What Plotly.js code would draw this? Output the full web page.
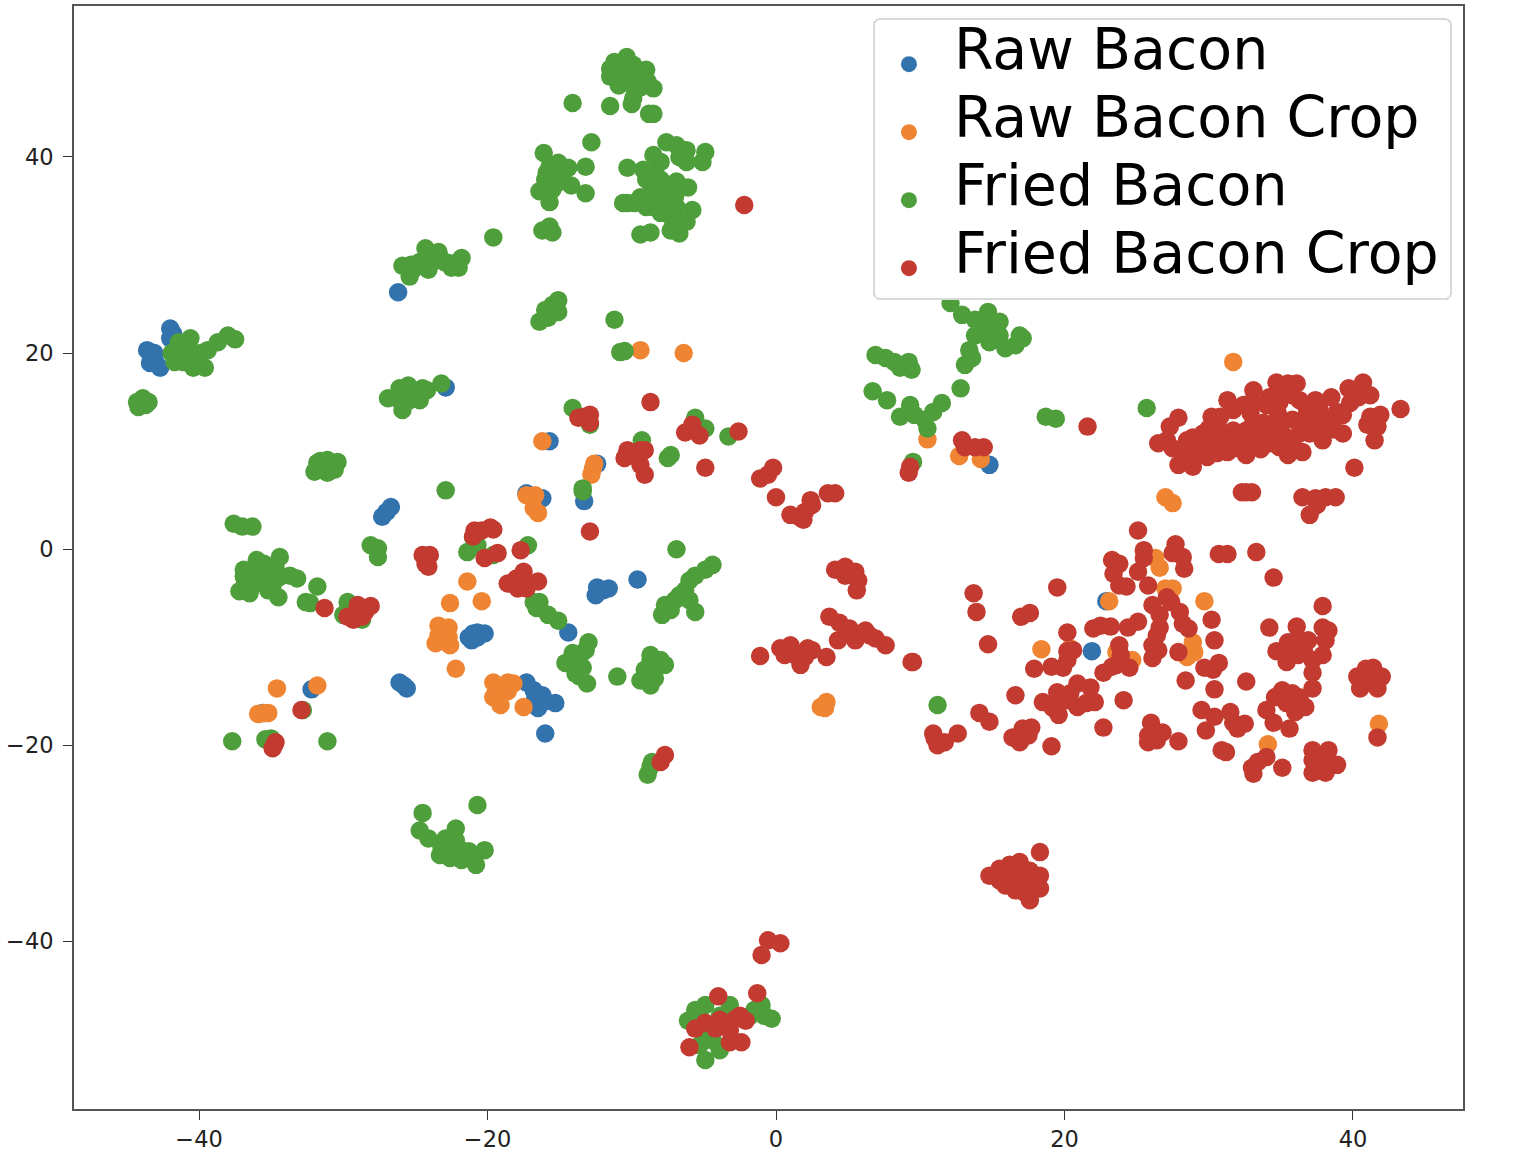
<!DOCTYPE html>
<html>
<head>
<meta charset="utf-8">
<script src="https://cdn.plot.ly/plotly-3.0.1.min.js"></script>
<style>body { margin: 0; background: #fff; }</style>
</head>
<body>
<div id="chart"></div>
<script>
const seriesNames = ['Raw Bacon', 'Raw Bacon Crop', 'Fried Bacon', 'Fried Bacon Crop'];
const seriesColors = ['#3373ad', '#ef8532', '#4f9e3c', '#c23a30'];
const tickValues = [-40, -20, 0, 20, 40];

const rawBacon = [
  [-42,22.5],[-41.8,22],[-42,21.5],[-43.6,20.3],[-43.3,19.6],[-43.4,19],[-42.7,18.5],[-43,19],[-43.1,20],
  [-22.9,16.5],[-26.2,26.2],[-27.3,3.3],[-26.7,4.3],[-27,3.8],[-32.2,-14.3],[-35.6,-16.7],
  [-21.1,-9.3],[-20.7,-8.5],[-20.2,-8.6],[-21,-8.6],[-21.3,-9],[-20.7,-9],[-26.1,-13.6],[-25.6,-14.2],[-25.8,-13.9],
  [-17.3,-13.6],[-16.8,-14.4],[-16.2,-14.9],[-16.5,-16.2],[-15.3,-15.7],[-16.7,-15.3],[-16,-15.5],[-16,-18.8],
  [-14.4,-8.5],[-12.4,-3.9],[-11.6,-4],[-12.5,-4.7],[-12,-4.2],[-9.6,-3.1],
  [-15.7,11],[-12.4,8.7],[-17.3,5.7],[-16.2,5.2],[-13.3,4.9],
  [14.8,8.6],[22.9,-5.3],[21.9,-10.4]
];

const rawBaconCrop = [
  [-34.6,-14.2],[-31.8,-13.9],[-35.9,-16.8],[-35.2,-16.7],[-35.5,-16.7],
  [-21.4,-3.3],[-22.6,-5.5],[-20.4,-5.3],[-23.4,-7.8],[-22.7,-8],[-23.4,-8.8],[-22.7,-9],[-23.6,-9.6],[-22.6,-9.8],[-23.1,-9.4],[-23.1,-8.4],
  [-22.2,-12.2],[-19.6,-13.6],[-18.6,-13.6],[-18.2,-13.7],[-19.6,-15.1],[-19.1,-15.9],[-19,-14.4],[-19.4,-14.4],[-18.6,-14.5],[-17.5,-16.1],
  [-16.2,11],[-12.6,8.7],[-12.8,7.6],[-12.7,8.2],[-17.3,5.5],[-16.7,5.5],[-16.5,3.7],[-16.8,4.2],
  [-9.4,20.3],[-6.4,20],[3.1,-16.1],[3.5,-15.6],[3.4,-16.2],
  [31.7,19.1],[27,5.3],[27.5,4.7],[10.5,11.2],[12.7,9.5],[14.2,9.2],
  [26.3,-0.9],[26.6,-1.9],[27,-4],[27.5,-4],[29.7,-5.3],[23.1,-5.3],
  [28.9,-9.5],[29,-10.5],[28.5,-11],[18.4,-10.2],[20.4,-10.1],[23.6,-10.5],[24.7,-11.3],
  [34.1,-19.9],[41.8,-17.8]
];

const friedBacon = [
  [-10.35,50.2],[-11.2,49.7],[-11.5,49],[-11.5,48.2],[-10.7,48.7],[-9.9,49.4],[-10.9,47.3],[-10.1,47.5],[-9.2,48.3],[-8.9,47.7],[-8.5,47],[-9.4,47.1],[-10.3,48.6],[-9.6,48.5],[-11,48.2],[-10.8,49.3],[-9,48.9],
  [-10,45.4],[-9.9,46],[-11.5,45.2],[-14.1,45.5],[-8.5,44.4],[-8.8,44.4],[-12.8,41.5],
  [-7.6,41.5],[-6.9,41.2],[-6.2,40.7],[-6.7,40],[-6.2,39.5],[-4.9,40.5],[-5.1,39.5],[-8.5,40.2],[-8,39.5],[-10.3,38.9],[-9.2,38.7],[-8.5,38.4],[-9,37.7],[-8,37.7],
  [-6.9,37.5],[-6.1,36.9],[-7.3,36.6],[-9.4,35.9],[-10.6,35.3],[-10.3,35.3],[-9,34.9],[-8.3,35.6],[-7.6,35.3],[-8,34.3],[-7.3,33.9],[-6.9,34.9],[-5.8,34.6],[-6.2,33.4],
  [-7.3,32.5],[-6.7,32.2],[-9.4,32.1],[-8.7,32.3],[-8.3,37],[-8.7,36.3],[-7.9,36.5],[-7,36],[-8.5,34.9],[-7.5,34.7],[-6.8,33.3],[-9.8,35.3],
  [-16.1,40.4],[-15.1,39.4],[-14.4,38.9],[-13.2,39],[-15.9,38.4],[-15.3,38.4],[-16,37.7],[-14.8,37.9],[-14.2,37.1],[-16.4,36.5],[-13.2,36.3],[-15.7,35.4],[-15.2,37.3],[-15.5,36.7],[-14.8,38.7],[-15.9,37],[-15.6,38],[-15.7,39],
  [-16.2,32.5],[-15.7,32.9],[-15.5,32.3],[-15.9,32.6],
  [-25.9,28.9],[-25.2,28.5],[-25.4,27.8],[-24.3,30.7],[-23.4,30.3],[-23.8,29.3],[-23,29.3],[-22.5,28.7],[-21.8,29.7],[-22,28.7],[-24.7,29.3],[-24.1,28.5],[-23.3,29.7],[-24.6,28.9],[-25.3,29],[-25,28.7],[-24,29.8],[-22.7,29.2],[-19.6,31.8],
  [-16.4,23.2],[-15.8,23.6],[-16,24.4],[-15.5,24.9],[-15.1,25.4],[-15.1,24.2],[-15.7,24],[-11.2,23.4],[-10.8,20.1],[-10.5,20.2],
  [-37.5,21.4],[-38,21.8],[-38.7,21.1],[-39.4,20.3],[-39.9,20],[-40.6,21.5],[-41.4,21.1],[-41.9,20],[-41.3,20],[-40.6,20],[-41.1,19.1],[-40.4,18.5],[-39.6,18.5],[-40.1,19.3],[-41.7,19.1],[-41.1,20.6],[-40.5,19.5],
  [-44.3,15],[-43.9,15.4],[-43.5,15],[-44.2,14.5],[-43.7,14.7],[-44,15],
  [-26.9,15.4],[-26.1,16.4],[-25.5,16.7],[-24.5,16.4],[-25.9,14.2],[-25.4,15.2],[-24.7,15.2],[-26.1,15.2],[-24.2,16.2],[-23.2,16.9],[-25.3,16],[-24.8,15.8],
  [-31.8,8.8],[-31.1,9.1],[-30.4,8.9],[-32,7.9],[-31.1,7.8],[-30.6,8.1],[-31.4,8.3],[-30.8,8.6],[-31.6,9],[-30.9,8.4],[-22.9,6],
  [-37.6,2.6],[-37,2.3],[-36.3,2.3],[-28.1,0.4],[-27.6,0.1],[-27.6,-0.8],
  [-36,-1.1],[-34.4,-0.8],[-36.9,-2.1],[-36.8,-3.4],[-35.8,-2.4],[-34.7,-1.8],[-34.5,-2.9],[-33.2,-3],[-33.7,-2.7],[-37.2,-4.3],[-36.5,-4.5],[-36,-3.5],[-35.2,-4.2],[-34.5,-4.9],[-36.3,-2.1],[-35.5,-2.2],[-35.1,-3.5],[-36.9,-2.8],[-35.6,-3],[-36.2,-3],[-35.5,-1.5],[-34.9,-3.7],
  [-31.8,-3.8],[-32.3,-5.5],[-32.6,-5.4],[-29.7,-5.4],[-30,-6.7],[-28.7,-7.2],
  [-21,1.2],[-21.4,-0.3],[-20.7,0.4],[-17.2,0.4],[-19.6,-0.6],
  [-16.8,-5.4],[-16.6,-6],[-15.8,-6.7],[-15.1,-7.3],[-16.4,-5.4],
  [-13,-9.5],[-13.2,-10.3],[-14.1,-10.6],[-14.6,-11.6],[-13.7,-11.5],[-13.4,-12.1],[-13.9,-12.7],[-13.1,-13.7],[-13.6,-13],[-13.6,-10.9],[-11,-13],
  [-32.8,-16.4],[-37.7,-19.6],[-35.4,-19.4],[-35,-19.3],[-31.1,-19.6],
  [-14.1,14.4],[-12.9,12.7],[-13.4,5.9],[-13.4,6.2],[-9.3,11.1],[-7.3,9.6],[-7.5,9.3],[-5.6,13.4],[-4.9,12.3],[-3.3,11.5],
  [-6.1,-48.1],[-5.6,-47],[-4.9,-46.5],[-3.9,-47.6],[-3.2,-46.5],[-1.5,-47],[-1,-46.5],[-0.8,-47.6],[-0.3,-47.9],[-1.8,-47.6],[-5.3,-50.6],[-4.9,-52.1],[-3.9,-51.1],[-4.4,-50.1],[-4.9,-49.1],
  [-24.5,-26.9],[-20.7,-26.1],[-24.7,-28.7],[-24.1,-29.5],[-22.2,-28.5],[-23.3,-31.2],[-22.6,-30.2],[-21.8,-30.7],[-21.2,-31.5],[-20.8,-32.2],[-20.2,-30.7],[-21.8,-31.7],[-22.9,-29.5],[-22.2,-29.7],[-22.6,-31.5],[-22,-30.8],[-23.2,-30.3],[-21.3,-30.8],
  [-8.7,-22.2],[-8.9,-23],[-8.6,-21.7],
  [-8.7,-10.8],[-8,-11.3],[-9.1,-12.3],[-8.4,-12.1],[-7.7,-11.8],[-9.4,-13.4],[-8.7,-13.9],[-8.4,-13.2],[-8.7,-11.3],
  [-4.4,-1.6],[-4.9,-2.1],[-5.6,-2.7],[-6,-3.2],[-6.7,-4.7],[-7,-5.2],[-7.7,-5.7],[-6,-5.2],[-7.3,-6.2],[-5.6,-6.4],[-7.9,-6.7],[-6.3,-4.2],[-6.9,0],
  [12.1,25.1],[12.9,23.9],[13.8,23.4],[14.7,24.2],[15.5,23.2],[16.9,21.8],[14.5,22.3],[14.8,21.1],[15.5,21.8],[15.9,20.5],[16.6,20.8],[13.8,21.8],[13.4,20.3],[13.1,18.8],[13.6,19.5],[17.1,21.5],[14.5,23.2],[15.2,22.6],[12.8,16.4],
  [6.9,19.8],[7.6,19.5],[8.2,19.1],[8.9,18.8],[9.4,18.3],[8.6,18.5],[9.2,19.1],
  [6.7,16.1],[7.7,15.2],[9.3,14.7],[8.6,13.5],[9.6,13.7],[10.5,12.3],[10.3,13.2],[10.9,14],[11.5,14.9],
  [18.7,13.5],[19.4,13.3],[25.7,14.4],[9.5,8.9],[11.2,-15.9]
];

const friedBaconCrop = [
  [-31.3,-6],[-29,-5.7],[-28.1,-5.8],[-29.7,-6.9],[-29.3,-7.2],[-28.5,-6.4],[-29,-6.4],[-28.7,-6.9],
  [-24.5,-0.6],[-24,-0.6],[-24.3,-1.5],[-24.1,-1.8],
  [-20.9,1.9],[-19.8,2.2],[-20.4,1.9],[-21,1.3],[-19.6,2],[-20.2,-0.9],[-19.3,-0.4],[-17.7,-0.1],
  [-18.6,-3.5],[-18,-3],[-17.5,-2.3],[-17.9,-4],[-17.3,-4],[-16.5,-3.3],[-17.5,-3.2],
  [-32.9,-16.4],[-34.7,-19.7],[-34.9,-20.3],[-34.8,-20],
  [-13.7,13.4],[-12.9,13.7],[-12.9,12.9],[-13.3,13.5],[-12.9,1.8],
  [-8.7,15],[-10.3,10.1],[-10.5,9.3],[-9.4,10.1],[-9.1,10.1],[-9.4,8.6],[-9.1,7.6],[-9.8,9.6],
  [-6.3,11.9],[-5.8,12.7],[-5.3,11.6],[-2.6,12],[-4.9,8.3],[-2.2,35.1],
  [-1.1,7.2],[-0.55,7.6],[-0.2,8.3],[0,5.3],[1,3.5],[1.7,3.2],[2,3.8],[2.4,5],[1.9,3],[3.6,5.7],[4.1,5.7],[2.5,4.5],
  [4.1,-2.1],[4.8,-1.8],[5.5,-2.3],[4.8,-2.7],[5.7,-3.2],[5.6,-4.2],[5.1,-2.3],
  [3.7,-6.9],[4.4,-7.5],[5.1,-8.1],[6.2,-8.3],[6.5,-8.8],[5.5,-9.3],[4.3,-9.3],[6.9,-9.1],[7.6,-9.8],[9.4,-11.5],
  [-1.1,-10.9],[0.3,-10.1],[1,-9.8],[2.2,-10.1],[0.6,-10.8],[1.3,-10.8],[2,-11],[1.7,-11.8],[3.5,-11],[2.5,-10.3],
  [27.9,13.4],[27.3,12.5],[26.5,10.8],[27.1,11.1],[27.5,10.3],[27.9,8.6],[28.9,8.4],[28.7,9.4],[28.5,11.1],[28.9,11.4],[29.6,11.8],[30,12.3],[29.4,10.4],[29.9,9.4],[30.6,9.8],[31.3,9.9],[32,10.3],[32.6,9.6],
  [30.2,13.5],[30.8,13.5],[31.3,15.2],[31.7,14.2],[32.4,14.7],[33.1,16.2],[32.9,13.9],[30.8,11.4],[31.7,12.1],[32.6,12.1],[32.6,10.8],[33.5,11.4],[34.2,10.8],[33.8,12.9],
  [34.7,17],[35.5,16.9],[36.1,16.9],[34.2,15.5],[34,14.7],[34.9,15],[35.8,15.7],[36.3,15.2],[35.1,12.9],[35.8,13.2],[36.5,13.2],[34.5,12.1],[35.4,11.4],[36.3,11.8],[34.9,10.4],[35.5,9.6],[36.5,9.9],[35.8,10.8],
  [37.4,15.2],[38.5,15.5],[37.7,14.2],[38.9,14],[37.2,13],[38.4,13.2],[37.9,11.1],[39.3,11.8],[37.9,12.2],[39.7,16.4],[40.7,17],[41.2,15.7],[39.8,14.9],[39.3,13.7],
  [28.2,10.2],[29,9.9],[30.5,10.7],[31.2,11],[33.1,13],[33.6,10.2],[34.8,13.8],[36.8,14.4],[37,11.8],[38.7,12.2],[30.6,12.6],[32.2,11.4],[33,15],[35.3,16],[36.7,12.5],[40.4,15.5],
  [43.3,14.3],[41.9,13.7],[41.2,13.5],[41,12.7],[41.7,12.5],[41.5,11.1],[40.1,8.3],
  [32.3,5.8],[33,5.8],[32.6,5.8],[36.5,5.3],[37.4,5.2],[37,3.5],[38.1,5.3],[38.8,5.3],[37.5,4.5],
  [21.6,12.5],[12.9,11.1],[13.1,10.4],[13.8,10.4],[14.4,10.4],[9.3,8.4],[9.2,7.8],
  [25.1,1.9],[25.5,-0.1],[25.5,-0.9],[25.1,-2.3],[23.3,-1.1],[23.8,-1.5],[23.4,-2.5],[23.8,-3.7],[24.3,-3.8],[25.8,-3.7],
  [27.7,0.5],[27.5,-0.4],[28.2,-0.8],[28.3,-2],[30.7,-0.5],[31.3,-0.5],[33.3,-0.3],[34.5,-2.9],
  [19.5,-3.9],[13.7,-4.5],[13.9,-6.4],[17,-6.9],[17.6,-6.5],[14.7,-9.7],[9.5,-11.5],
  [20.2,-8.5],[22,-8.1],[22.5,-7.8],[23.2,-7.9],[24.4,-8],[25.1,-7.4],
  [27.1,-4.9],[26.1,-5.7],[27.4,-5.4],[26.6,-6.7],[28,-6.4],[26.6,-8],[28.2,-7.6],[26.4,-8.8],[28.6,-8.1],[26.1,-9.8],[26.5,-10.3],[26.1,-11.1],[27.9,-10.5],
  [30.2,-7.2],[30.4,-9.3],[30.7,-11.6],[29.7,-12.1],[30.3,-12.3],[28.4,-13.4],[30.4,-14.3],[32.6,-13.5],
  [20.2,-10.4],[20.6,-10.3],[20.2,-11.3],[19.1,-12],[19.9,-12.1],[17.9,-12.2],
  [23.8,-9.8],[23.9,-10.8],[23.6,-11.8],[24.5,-12.1],[22.7,-12.6],[23.3,-12],
  [16.6,-14.9],[18.5,-15.6],[19.5,-14.6],[19.2,-16.2],[19.6,-16.9],[20.4,-14.7],[20.9,-13.7],[21.8,-14.1],[22.1,-15.6],[20.9,-16.1],[20.2,-15.4],[21.5,-15.7],[24.1,-15.4],[22.7,-18.2],
  [14.1,-16.7],[14.8,-17.6],[10.9,-18.8],[11.2,-20],[11.7,-19.7],[12.6,-18.8],[11,-19.3],
  [16.4,-19.2],[17.1,-18.3],[17.7,-18.2],[16.9,-19.7],[17.5,-19],[19.1,-20.1],
  [26,-17.7],[25.8,-19],[26.8,-18.7],[25.8,-19.7],[26.4,-19.5],[26.2,-18.5],[27.9,-19.6],
  [29.5,-16.4],[30.4,-17.1],[31.5,-16.6],[31.7,-17.7],[32.5,-17.8],[32,-18.3],[29.8,-18.5],[30.9,-20.5],[31.2,-20.7],
  [34,-16.4],[34.5,-17.7],[35.6,-18.3],[41.7,-19.2],
  [34,-21.2],[33.4,-21.7],[33,-22.3],[33.1,-22.9],[35.1,-22.3],
  [37.2,-20.5],[38.3,-20.5],[37.2,-22.8],[38.1,-22.8],[38.9,-22],[37.7,-21.5],[37.2,-21.5],[38.2,-21.6],[37.7,-22.3],
  [37.9,-5.8],[34.2,-8],[36.1,-7.9],[37.9,-8],[38.3,-8.3],[38.1,-9.3],[34.7,-10.4],[35.5,-9.5],[36.3,-9.3],[36.9,-9.3],[37.9,-10.8],[35.4,-11.5],[36.2,-10.8],[37.2,-11.3],[37.2,-12.6],[37.2,-14.2],[36.6,-10.3],[35.7,-10.3],
  [35.1,-14.4],[34.6,-15.1],[35.8,-14.7],[36.3,-15.1],[35.4,-15.7],[36.7,-16.1],[36,-16.6],[35.8,-15.6],
  [40.3,-13],[41.4,-12.1],[42,-13],[40.5,-14.2],[41.7,-14.2],[41,-13.4],[40.9,-12.2],[41.6,-13.2],
  [14.8,-33.3],[15.5,-32.6],[15.9,-34.3],[16.6,-33.3],[16.9,-31.9],[17.6,-32.8],[18.3,-30.9],[18.3,-33.3],[17.6,-34.6],[18.3,-34.6],[17.6,-35.8],[16.6,-34.8],[15.5,-33.8],[17.3,-33.8],[16.2,-32.2],[16.6,-32.5],[17.2,-35],
  [-0.55,-39.9],[0.3,-40.2],[-1,-41.4],[-1.3,-45.3],[-4,-45.6],
  [-6,-50.8],[-5.6,-48.9],[-4.9,-48.3],[-3.9,-48],[-3.2,-49.1],[-2.5,-47.6],[-2.1,-48.1],[-3.2,-50.3],[-2.4,-50.3],[-4.2,-48.9],[-2.8,-47.9],[-3.5,-48.5],
  [-8,-21.7],[-7.7,-21]
];

const allSeries = [rawBacon, rawBaconCrop, friedBacon, friedBaconCrop];

const traces = allSeries.map((pts, i) => ({
  x: pts.map(p => p[0]),
  y: pts.map(p => p[1]),
  name: seriesNames[i],
  type: 'scatter',
  mode: 'markers',
  marker: { color: seriesColors[i], size: 18.5 }
}));

const axisStyle = {
  tickvals: tickValues,
  ticks: 'outside',
  ticklen: 9,
  tickwidth: 1.3,
  tickcolor: '#333',
  showgrid: false,
  zeroline: false,
  showline: true,
  mirror: true,
  linecolor: '#555',
  linewidth: 1.8,
  tickfont: { family: 'DejaVu Sans', size: 22.5, color: '#222' }
};

const layout = {
  width: 1536,
  height: 1167,
  margin: { l: 74, r: 73, t: 6, b: 58 },
  paper_bgcolor: '#fff',
  plot_bgcolor: '#fff',
  xaxis: Object.assign({ range: [-48.67, 47.63] }, axisStyle),
  yaxis: Object.assign({ range: [-57.1, 55.4], ticklabelstandoff: 5 }, axisStyle),
  showlegend: true,
  legend: {
    x: 0.5752,
    y: 0.989,
    xanchor: 'left',
    yanchor: 'top',
    bgcolor: '#fff',
    bordercolor: '#d9d9d9',
    borderwidth: 2,
    font: { family: 'DejaVu Sans', size: 57, color: '#000' }
  }
};

Plotly.newPlot('chart', traces, layout, { displayModeBar: false }).then(() => {
  // plotly's legend has no handle spacing options, so nudge it to matplotlib's layout
  const legend = document.querySelector('.legend');
  legend.querySelector('.scrollbox').removeAttribute('clip-path');
  const bg = legend.querySelector('.bg');
  bg.setAttribute('width', 577);
  bg.setAttribute('height', 280);
  bg.setAttribute('rx', 6);
  legend.querySelectorAll('.traces').forEach((g, i) => {
    g.setAttribute('transform', `translate(0,${28.5 + i * 68})`);
    g.querySelector('.legendsymbols').setAttribute('transform', 'translate(16,17.5)');
    g.querySelector('.legendtext').setAttribute('x', 81);
  });
});
</script>
</body>
</html>
